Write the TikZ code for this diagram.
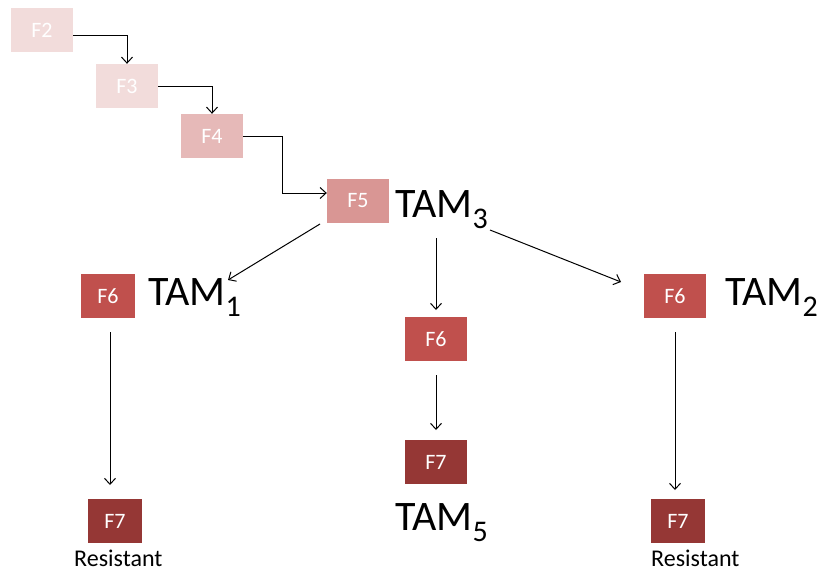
\documentclass[tikz,border=0pt]{standalone}
\usepackage{fontspec}
\setmainfont{Carlito}
\usetikzlibrary{arrows.meta}
\definecolor{cA}{HTML}{F2DCDB}
\definecolor{cB}{HTML}{E6B9B8}
\definecolor{cC}{HTML}{D99694}
\definecolor{cD}{HTML}{C0504D}
\definecolor{cE}{HTML}{953735}
\newcommand{\tamlabel}[1]{\fontsize{42}{42}\selectfont TAM\raisebox{-11pt}{\fontsize{30}{30}\selectfont #1}}
\begin{document}
\begin{tikzpicture}[x=1pt,y=-1pt,
  fbox/.style={minimum width=62pt,minimum height=44pt,inner sep=0pt,text=white,font=\fontsize{22}{22}\selectfont},
  nbox/.style={fbox,minimum width=54pt},
  conn/.style={draw=black,line width=1pt,-{Straight Barb[length=6pt,width=11pt,line width=1pt]}},
  tam/.style={anchor=base west,inner sep=0pt},
  res/.style={anchor=base west,inner sep=0pt,font=\fontsize{24}{24}\selectfont}]
\useasboundingbox (0,0) rectangle (822,571);
\node[fbox,fill=cA] (f2) at (42,30) {F2};
\node[fbox,fill=cA] (f3) at (127,86) {F3};
\node[fbox,fill=cB] (f4) at (212,136) {F4};
\node[fbox,fill=cC] (f5) at (358,201) {F5};
\node[nbox,fill=cD] (f6a) at (108,296) {F6};
\node[fbox,fill=cD] (f6b) at (436,339) {F6};
\node[fbox,fill=cD] (f6c) at (675,296) {F6};
\node[nbox,fill=cE] (f7a) at (115,521) {F7};
\node[fbox,fill=cE] (f7b) at (436,462) {F7};
\node[nbox,fill=cE] (f7c) at (678,521) {F7};
\node[tam] (t3) at (395,217) {\tamlabel{3}};
\node[tam] (t1) at (148,305) {\tamlabel{1}};
\node[tam] (t2) at (725,305) {\tamlabel{2}};
\node[tam] (t5) at (395,530) {\tamlabel{5}};
\node[res] (r1) at (74,566) {Resistant};
\node[res] (r2) at (651,566) {Resistant};
% connector ends
\coordinate (a1s) at (320,224);
\coordinate (a1e) at (228,280);
\coordinate (a2s) at (436,238);
\coordinate (a2e) at (436,310);
\coordinate (a3s) at (490,230);
\coordinate (a3e) at (621,282);
\coordinate (b1s) at (110,332);
\coordinate (b1e) at (110,485);
\coordinate (b2s) at (436,375);
\coordinate (b2e) at (436,430);
\coordinate (b3s) at (675,332);
\coordinate (b3e) at (675,490);
\coordinate (k4) at (282,136);
\draw[conn] (f2.east |- 0,35) -| (f3.north);
\draw[conn] (f3.east) -| (f4.north);
\draw[conn] (f4.east) -- (k4) |- (f5.west |- 0,193);
\draw[conn] (a1s) -- (a1e);
\draw[conn] (a2s) -- (a2e);
\draw[conn] (a3s) -- (a3e);
\draw[conn] (b1s) -- (b1e);
\draw[conn] (b2s) -- (b2e);
\draw[conn] (b3s) -- (b3e);
\end{tikzpicture}
\end{document}
